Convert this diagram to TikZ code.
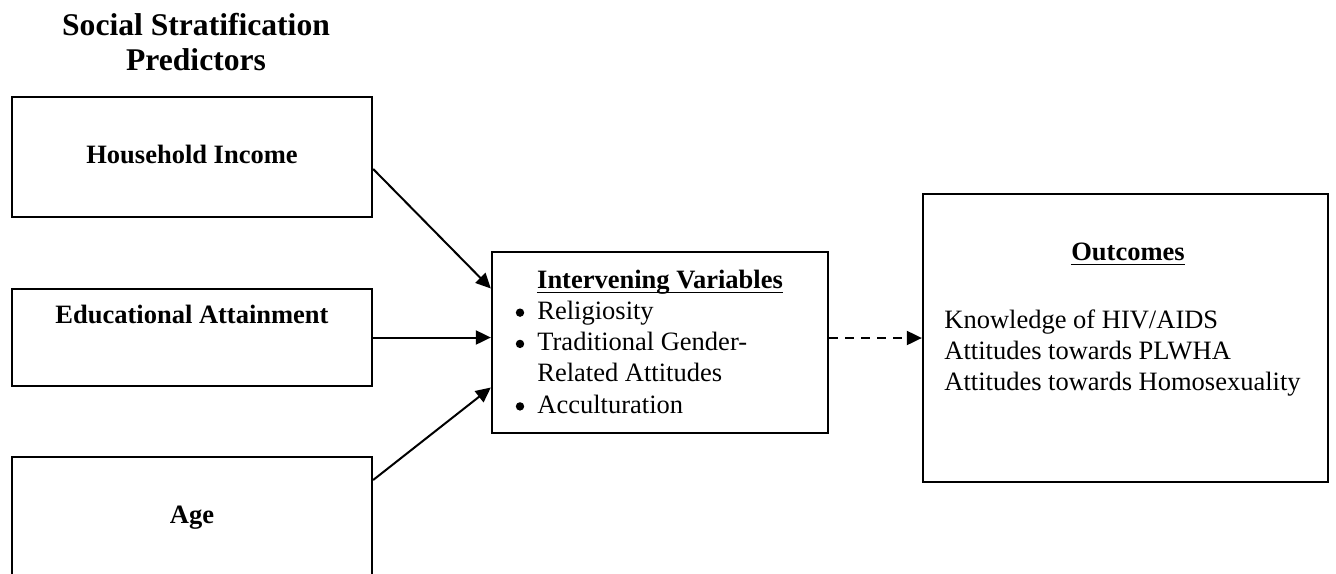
\documentclass[tikz,border=0pt]{standalone}
\usepackage{fontspec}
\setmainfont{Liberation Serif}
\usetikzlibrary{arrows.meta}
\begin{document}
\begin{tikzpicture}[x=0.5pt,y=-0.5pt,
  box/.style={draw, line width=1.15pt, inner sep=0pt, minimum width=#1},
  box/.default=180pt,
  txt/.style={inner sep=0pt, font=\fontsize{13.25pt}{15.6pt}\selectfont},
  btxt/.style={txt, font=\fontsize{13.25pt}{15.6pt}\selectfont\bfseries},
  ttl/.style={inner sep=0pt, font=\fontsize{15.8pt}{18pt}\selectfont\bfseries},
  conn/.style={line width=1pt, -{Triangle[length=7.5pt,width=7pt]}},
  dashconn/.style={conn, dash pattern=on 4.5pt off 3.5pt},
  bul/.style={fill=black}]
\clip (0,0) rectangle (1336,573);
\fill[white] (0,0) rectangle (1336,573);

% title
\node[ttl, anchor=base] (t1) at (196,35) {Social Stratification};
\node[ttl, anchor=base] (t2) at (196,70) {Predictors};

% left boxes
\node[box, minimum height=60pt] (hh) at (192,157) {};
\node[btxt, anchor=base] (hhT) at (192,163) {Household Income};

\node[box, minimum height=48.5pt] (edu) at (192,337.5) {};
\node[btxt, anchor=base] (eduT) at (192,323) {Educational Attainment};

\node[box, minimum height=60pt] (age) at (192,517) {};
\node[btxt, anchor=base] (ageT) at (192,523) {Age};

% middle box
\node[box=168pt, minimum height=90.5pt] (mid) at (660,342.5) {};
\node[btxt, anchor=base] (midH) at (660,288) {Intervening Variables};
\draw[line width=0.9pt] ([yshift=-2.2pt]midH.base west) -- ([yshift=-2.2pt]midH.base east);
\node[txt, anchor=base west] (m1) at (537,319.25) {Religiosity};
\node[txt, anchor=base west] (m2) at (537,350.5) {Traditional Gender-};
\node[txt, anchor=base west] (m3) at (537,381.75) {Related Attitudes};
\node[txt, anchor=base west] (m4) at (537,413) {Acculturation};
\foreach \m in {m1,m2,m4}
  \fill[bul] ([xshift=-8.5pt,yshift=3.3pt]\m.base west) circle (2.1pt);

% outcomes box
\node[box=202.5pt, minimum height=144pt] (out) at (1125.5,338) {};
\node[btxt, anchor=base] (outH) at (1128,260) {Outcomes};
\draw[line width=0.9pt] ([yshift=-2.2pt]outH.base west) -- ([yshift=-2.2pt]outH.base east);
\node[txt, anchor=base west] (o1) at (944,328) {Knowledge of HIV/AIDS};
\node[txt, anchor=base west] (o2) at (944,359) {Attitudes towards PLWHA};
\node[txt, anchor=base west] (o3) at (944,390) {Attitudes towards Homosexuality};

% connectors
\draw[conn] ([yshift=-6pt]hh.east) -- ([yshift=27pt]mid.west);
\draw[conn] (edu.east) -- (mid.west |- edu.east);
\draw[conn] ([yshift=18.5pt]age.east) -- ([yshift=-22.5pt]mid.west);
\draw[dashconn] (mid.east |- out.west) -- (out.west);
\end{tikzpicture}
\end{document}
